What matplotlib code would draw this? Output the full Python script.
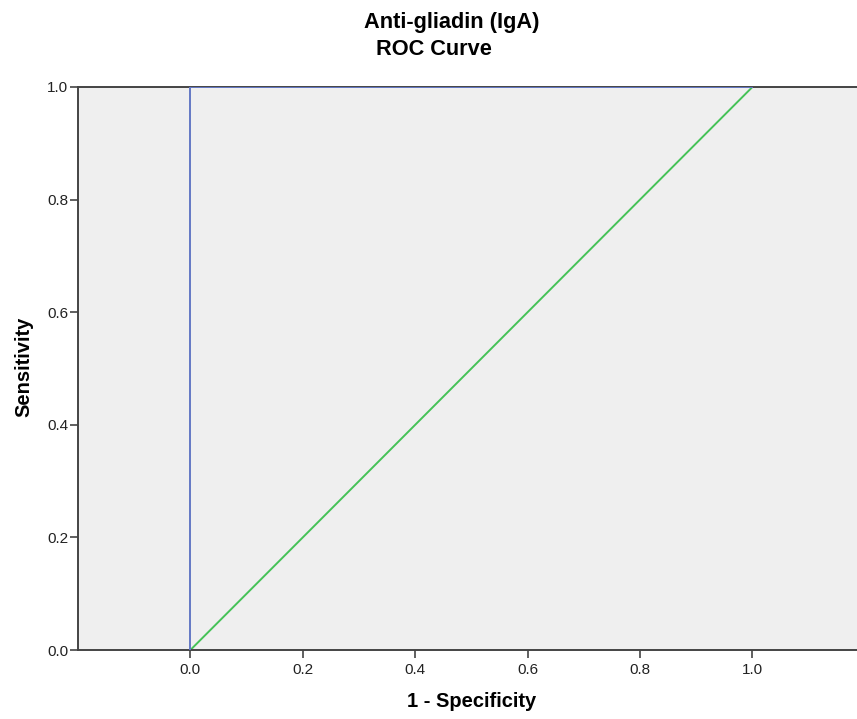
import matplotlib
matplotlib.use("Agg")
import matplotlib.pyplot as plt

plt.rcParams['font.family'] = ['Liberation Sans', 'DejaVu Sans']

# ROC points
roc_fpr = [0.0, 0.0, 1.0]
roc_tpr = [0.0, 1.0, 1.0]
ref_x = [0.0, 1.0]
ref_y = [0.0, 1.0]
x_ticks = [0.0, 0.2, 0.4, 0.6, 0.8, 1.0]
y_ticks = [0.0, 0.2, 0.4, 0.6, 0.8, 1.0]

W, H = 857, 719
fig = plt.figure(figsize=(W / 100, H / 100), dpi=100)
ax = fig.add_axes([78 / W, 1 - 650 / H, 1 - 78 / W, (650 - 87) / H])
ax.set_facecolor('#efefef')

ax.plot(ref_x, ref_y, color='#45c257', lw=1.4, zorder=2)
ax.plot(roc_fpr, roc_tpr, color='#6478c4', lw=1.4, zorder=3)

ax.set_xlim(-0.2, -0.2 + (W - 78) / 562)
ax.set_ylim(0, 1)
ax.set_xticks(x_ticks)
ax.set_yticks(y_ticks)
ax.set_xticklabels(['%.1f' % t for t in x_ticks])
ax.set_yticklabels(['%.1f' % t for t in y_ticks])
ax.tick_params(direction='out', length=6, width=1.2, color='#444444',
               labelsize=11, labelcolor='#222222')
ax.tick_params(axis='x', pad=3)
ax.tick_params(axis='y', pad=1)

for s in ['left', 'bottom', 'top']:
    ax.spines[s].set_color('#444444')
    ax.spines[s].set_linewidth(1.4)
ax.spines['right'].set_visible(False)

fig.text(472 / W, 1 - 707 / H, '1 - Specificity', ha='center', va='baseline',
         fontsize=14.5, fontweight='bold')
fig.text(24 / W, 1 - 367 / H, 'Sensitivity', ha='center', va='center',
         rotation=90, fontsize=14.5, fontweight='bold')

fig.text(452 / W, 1 - 28 / H, 'Anti-gliadin (IgA)', ha='center', va='baseline',
         fontsize=15.7, fontweight='bold')
fig.text(434 / W, 1 - 55 / H, 'ROC Curve', ha='center', va='baseline',
         fontsize=15.7, fontweight='bold')

fig.savefig('out.png', dpi=100)
